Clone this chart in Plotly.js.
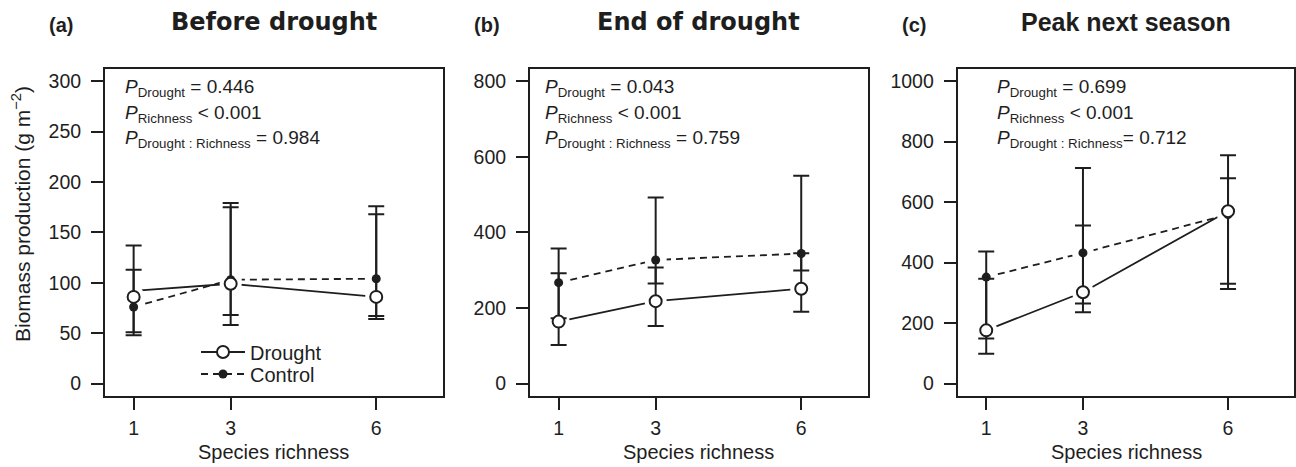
<!DOCTYPE html>
<html>
<head>
<meta charset="utf-8">
<script src="https://cdn.plot.ly/plotly-3.0.1.min.js"></script>
<style>html,body{margin:0;padding:0;background:#fff;}#chart{width:1296px;height:467px;}</style>
</head>
<body>
<div id="chart"></div>
<script>
// ---------- data ----------
const richness = [1, 3, 6];
const richnessLabels = ["1", "3", "6"];
const seriesNames = ["Drought", "Control"];
const panelTitles = ["Before drought", "End of drought", "Peak next season"];
const panelLetters = ["(a)", "(b)", "(c)"];

// Panel (a) Before drought
const droughtA = [86, 99, 86];
const droughtA_upper = [137, 175, 176];
const droughtA_lower = [51, 58, 64];
const droughtA_line = [92, 99, 86];
const controlA = [76, 103, 104];
const controlA_upper = [113, 179, 168];
const controlA_lower = [48, 68, 67];
const controlA_line = [76, 103, 104];

// Panel (b) End of drought
const droughtB = [164, 218, 251];
const droughtB_upper = [292, 307, 345];
const droughtB_lower = [102, 152, 190];
const droughtB_line = [164, 218, 251];
const controlB = [267, 327, 344];
const controlB_upper = [357, 492, 550];
const controlB_lower = [173, 265, 299];
const controlB_line = [267, 327, 344];

// Panel (c) Peak next season
const droughtC = [176, 302, 570];
const droughtC_upper = [347, 523, 755];
const droughtC_lower = [99, 236, 313];
const droughtC_line = [176, 302, 570];
const controlC = [352, 432, 559];
const controlC_upper = [437, 713, 679];
const controlC_lower = [149, 265, 330];
const controlC_line = [352, 432, 559];

// y-axis ticks
const yTicksA = [0, 50, 100, 150, 200, 250, 300];
const yTicksB = [0, 200, 400, 600, 800];
const yTicksC = [0, 200, 400, 600, 800, 1000];

// statistics text
const pDrought = ["0.446", "0.043", "0.699"];
const pRichness = ["0.001", "0.001", "0.001"];
const pInteraction = ["0.984", "0.759", "0.712"];

// ---------- layout helpers ----------
const W = 1296, H = 467;
const fx = p => p / W;
const fy = p => 1 - p / H;
const INK = '#1e1e1e';
const FONT = 'Liberation Sans, Arial, sans-serif';

const panels = [
  {d: droughtA, du: droughtA_upper, dl: droughtA_lower, dLine: droughtA_line,
   c: controlA, cu: controlA_upper, cl: controlA_lower, cLine: controlA_line,
   yt: yTicksA, yr: [-12, 312], dom: [105, 442.7], annX: 125, titleFont: 'DejaVu Sans, sans-serif', titleSize: 24, eqSep: ' = '},
  {d: droughtB, du: droughtB_upper, dl: droughtB_lower, dLine: droughtB_line,
   c: controlB, cu: controlB_upper, cl: controlB_lower, cLine: controlB_line,
   yt: yTicksB, yr: [-32, 832], dom: [530, 867.7], annX: 545, titleFont: 'DejaVu Sans, sans-serif', titleSize: 24, eqSep: ' = '},
  {d: droughtC, du: droughtC_upper, dl: droughtC_lower, dLine: droughtC_line,
   c: controlC, cu: controlC_upper, cl: controlC_lower, cLine: controlC_line,
   yt: yTicksC, yr: [-40, 1040], dom: [957.7, 1294.3], annX: 997, titleFont: 'Liberation Sans, Arial, sans-serif', titleSize: 25, eqSep: '= '}
];

const traces = [];
const annotations = [];
const legendCommon = {
  xanchor: 'left', yanchor: 'middle',
  bgcolor: 'rgba(0,0,0,0)', borderwidth: 0,
  font: {family: FONT, size: 20, color: INK},
  itemwidth: 44
};
const layout = {
  width: W, height: H,
  margin: {l: 0, r: 0, t: 0, b: 0},
  paper_bgcolor: '#fff', plot_bgcolor: '#fff',
  showlegend: true,
  legend: Object.assign({x: fx(196), y: fy(352)}, legendCommon),
  legend2: Object.assign({x: fx(196), y: fy(374)}, legendCommon),
  annotations: annotations
};

panels.forEach((p, i) => {
  const sfx = i === 0 ? '' : String(i + 1);
  const xa = 'x' + sfx, ya = 'y' + sfx;
  const axisCommon = {
    showline: true, linewidth: 2, linecolor: INK, mirror: true,
    ticks: 'outside', ticklen: 12, tickwidth: 2, tickcolor: INK,
    showgrid: false, zeroline: false, fixedrange: true,
    tickfont: {family: FONT, size: 19.5, color: INK}
  };
  layout['xaxis' + sfx] = Object.assign({}, axisCommon, {
    domain: [fx(p.dom[0]), fx(p.dom[1])], anchor: ya,
    range: [0.41, 7.37], tickmode: 'array', tickvals: richness, ticktext: richnessLabels,
    ticklabelstandoff: 2
  });
  layout['yaxis' + sfx] = Object.assign({}, axisCommon, {
    domain: [fy(395.7), fy(69)], anchor: xa,
    range: p.yr, tickmode: 'array', tickvals: p.yt, ticktext: p.yt.map(String),
    ticklabelstandoff: 6
  });

  // connecting lines
  traces.push({x: richness, y: p.dLine, xaxis: xa, yaxis: ya, mode: 'lines',
    line: {color: INK, width: 1.8}, showlegend: false, hoverinfo: 'skip'});
  traces.push({x: richness, y: p.cLine, xaxis: xa, yaxis: ya, mode: 'lines',
    line: {color: INK, width: 1.8, dash: '7px,5px'}, showlegend: false, hoverinfo: 'skip'});
  // white halos that leave gaps in the lines around points (like R type="b")
  traces.push({x: richness.concat(richness), y: p.d.concat(p.c), xaxis: xa, yaxis: ya, mode: 'markers',
    marker: {size: 22, color: 'rgb(255,255,255)', opacity: 1, line: {width: 0}}, showlegend: false, hoverinfo: 'skip'});
  // control points with error bars
  traces.push({x: richness, y: p.c, xaxis: xa, yaxis: ya, mode: 'markers', name: seriesNames[1],
    marker: {symbol: 'circle', size: 9, color: INK, line: {width: 0}},
    error_y: {type: 'data', symmetric: false,
      array: p.cu.map((v, k) => v - p.c[k]), arrayminus: p.c.map((v, k) => v - p.cl[k]),
      color: INK, thickness: 2, width: 8},
    showlegend: false});
  // drought points with error bars
  traces.push({x: richness, y: p.d, xaxis: xa, yaxis: ya, mode: 'markers', name: seriesNames[0],
    marker: {symbol: 'circle', size: 12, color: '#fff', line: {color: INK, width: 2}},
    error_y: {type: 'data', symmetric: false,
      array: p.du.map((v, k) => v - p.d[k]), arrayminus: p.d.map((v, k) => v - p.dl[k]),
      color: INK, thickness: 2, width: 8},
    showlegend: false});

  const cx = (p.dom[0] + p.dom[1]) / 2;
  // panel title
  annotations.push({text: '<b>' + panelTitles[i] + '</b>', xref: 'paper', yref: 'paper',
    x: fx(cx), y: fy(22), xanchor: 'center', yanchor: 'middle', showarrow: false,
    font: {family: p.titleFont, size: p.titleSize, color: INK}});
  // panel letter
  annotations.push({text: '<b>' + panelLetters[i] + '</b>', xref: 'paper', yref: 'paper',
    x: fx(p.dom[0] - 58), y: fy(25), xanchor: 'left', yanchor: 'middle', showarrow: false,
    font: {family: FONT, size: 20, color: INK}});
  // x axis title
  annotations.push({text: 'Species richness', xref: 'paper', yref: 'paper',
    x: fx(cx), y: fy(452), xanchor: 'center', yanchor: 'middle', showarrow: false,
    font: {family: FONT, size: 20, color: INK}});
  // statistics
  const statLines = [
    '<i>P</i><sub>Drought</sub> = ' + pDrought[i],
    '<i>P</i><sub>Richness</sub> &lt; ' + pRichness[i],
    '<i>P</i><sub>Drought : Richness</sub>' + p.eqSep + pInteraction[i]
  ];
  statLines.forEach((t, k) => {
    annotations.push({text: t, xref: 'paper', yref: 'paper',
      x: fx(p.annX - 2), y: fy(88 + k * 25.5), xanchor: 'left', yanchor: 'middle', showarrow: false,
      font: {family: FONT, size: 19, color: INK}});
  });
});

// y axis title (shared, left panel)
annotations.push({text: 'Biomass production (g m<sup>\u22122</sup>)', xref: 'paper', yref: 'paper',
  x: fx(21), y: fy(214), xanchor: 'center', yanchor: 'middle', textangle: -90, showarrow: false,
  font: {family: FONT, size: 21, color: INK}});

// legend entries
traces.push({x: [null], y: [null], xaxis: 'x', yaxis: 'y', mode: 'lines+markers', name: seriesNames[0],
  line: {color: INK, width: 1.8},
  marker: {symbol: 'circle', size: 12, color: '#fff', line: {color: INK, width: 2}},
  showlegend: true, legend: 'legend', hoverinfo: 'skip'});
traces.push({x: [null], y: [null], xaxis: 'x', yaxis: 'y', mode: 'lines+markers', name: seriesNames[1],
  line: {color: INK, width: 1.8, dash: '7px,5px'},
  marker: {symbol: 'circle', size: 9, color: INK},
  showlegend: true, legend: 'legend2', hoverinfo: 'skip'});

Plotly.newPlot('chart', traces, layout, {displayModeBar: false, staticPlot: true});
</script>
</body>
</html>
